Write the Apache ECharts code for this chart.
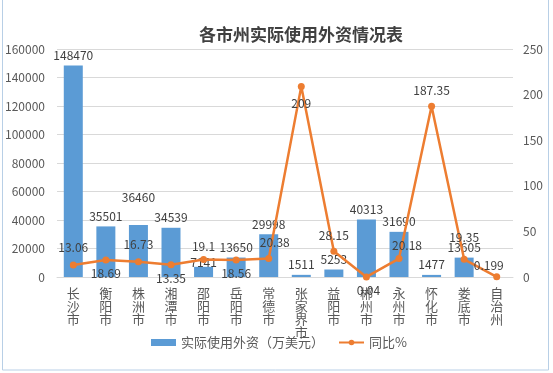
<!DOCTYPE html>
<html><head><meta charset="utf-8">
<script src="https://cdn.jsdelivr.net/npm/echarts@6/dist/echarts.min.js"></script>
<style>html,body{margin:0;padding:0;background:#fff}#c{width:553px;height:373px}</style>
</head><body><div id="c"></div>
<script>
const categories = ['长沙市','衡阳市','株洲市','湘潭市','邵阳市','岳阳市','常德市','张家界市','益阳市','郴州市','永州市','怀化市','娄底市','自治州'];
const investment = [148470, 35501, 36460, 34539, 7141, 13650, 29998, 1511, 5253, 40313, 31690, 1477, 13605, null];
const yoy = [13.06, 18.69, 16.73, 13.35, 19.1, 18.56, 20.38, 209, 28.15, 0.04, 20.18, 187.35, 19.35, 0.199];
const leftTicks = {min: 0, max: 160000, interval: 20000};
const rightTicks = {min: 0, max: 250, interval: 50};

// label placements (style only)
const barLabelOffsets = [[0,0],[0,0],[0,-18],[0,0],[0,6],[0,0],[0,0],[0,0],[0,0],[0,0],[0,0],[0,0],[0,0],[0,0]];
const lineLabelPos = [
  ['top',[0,-2]],['bottom',[0,-2]],['top',[0,-2]],['bottom',[0,-2]],['top',[0,2]],['bottom',[0,-2]],
  ['top',[6,0]],['bottom',[0,2]],['top',[0,0]],['bottom',[2,-2]],['top',[8,2]],['top',[0,0]],['top',[0,-6]],['top',[-8,4]]
];

const chart = echarts.init(document.getElementById('c'));
const txt = '#404040';
chart.setOption({
  animation: false,
  backgroundColor: '#fff',
  textStyle: {fontFamily: '"Noto Sans CJK SC", "Noto Sans", sans-serif'},
  graphic: [{type: 'rect', shape: {x: 2.5, y: -1, width: 546, height: 371}, style: {fill: 'none', stroke: '#b8cfe6', lineWidth: 1}}],
  title: {
    text: '各市州实际使用外资情况表', left: 296, textAlign: 'center', top: 21,
    textStyle: {fontSize: 17, fontWeight: 'bold', color: '#404040', fontFamily: '"Noto Sans CJK SC", sans-serif'}
  },
  legend: {
    left: 146, top: 331, itemGap: 14,
    textStyle: {fontSize: 13, color: '#595959'},
    data: [
      {name: '实际使用外资（万美元）', icon: 'rect', itemStyle: {color: '#5B9BD5'}},
      {name: '同比%'}
    ],
    itemWidth: 25, itemHeight: 7
  },
  grid: {left: 57, right: 40, top: 49, bottom: 96},
  xAxis: {
    type: 'category', data: categories,
    axisLine: {lineStyle: {color: '#d9d9d9'}}, axisTick: {show: false},
    axisLabel: {
      interval: 0, margin: 10, color: '#595959', fontSize: 13, lineHeight: 13,
      formatter: v => v.split('').join('\n')
    }
  },
  yAxis: [
    {type: 'value', min: leftTicks.min, max: leftTicks.max, interval: leftTicks.interval,
     axisLine: {show: false}, axisTick: {show: false},
     axisLabel: {color: '#595959', fontSize: 12, margin: 12, formatter: v => String(v)},
     splitLine: {lineStyle: {color: '#d9d9d9'}}},
    {type: 'value', min: rightTicks.min, max: rightTicks.max, interval: rightTicks.interval,
     axisLine: {show: false}, axisTick: {show: false},
     axisLabel: {color: '#595959', fontSize: 12, margin: 10, formatter: v => String(v)},
     splitLine: {show: false}}
  ],
  series: [
    {name: '实际使用外资（万美元）', type: 'bar', yAxisIndex: 0, barWidth: 19,
     itemStyle: {color: '#5B9BD5'},
     label: {show: true, position: 'top', color: txt, fontSize: 12, distance: 4},
     data: investment.map((v, i) => ({value: v, label: {offset: barLabelOffsets[i]}}))},
    {name: '同比%', type: 'line', yAxisIndex: 1,
     itemStyle: {color: '#ED7D31'}, lineStyle: {color: '#ED7D31', width: 2.5},
     symbol: 'circle', symbolSize: 7,
     label: {show: true, color: txt, fontSize: 12, distance: 6},
     data: yoy.map((v, i) => ({value: v, label: {position: lineLabelPos[i][0], offset: lineLabelPos[i][1]}}))}
  ]
});
</script></body></html>
